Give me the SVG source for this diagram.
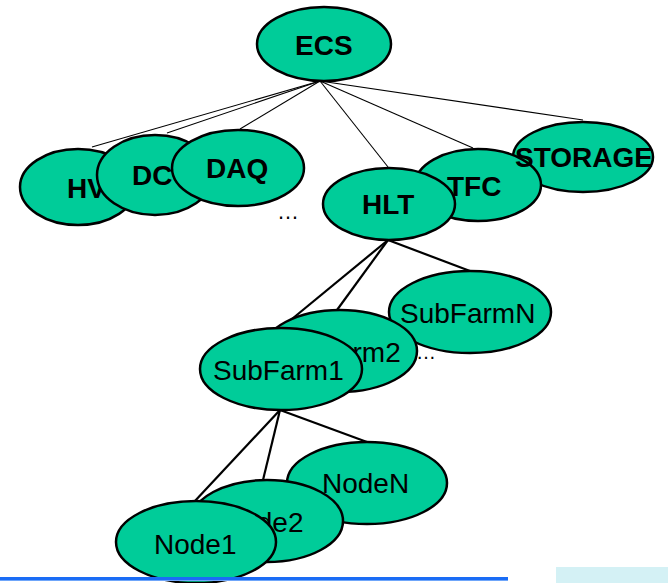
<svg xmlns="http://www.w3.org/2000/svg" width="668" height="583" viewBox="0 0 668 583">
  <style>
    .node ellipse { fill: #00CC99; stroke: #000; stroke-width: 2.5; }
    .bold { font-family: "Liberation Sans", Arial, sans-serif; font-weight: bold; font-size: 28px; fill: #000; }
    .reg { font-family: "Liberation Sans", Arial, sans-serif; font-size: 28px; fill: #000; }
    .thin line { stroke: #000; stroke-width: 1.1; }
    .thick line { stroke: #000; stroke-width: 2.2; }
  </style>
  <rect width="668" height="583" fill="#fff"/>

  <!-- connectors -->
  <g id="connectors">
    <g class="thin">
      <line x1="320" y1="81" x2="92" y2="147"/>
      <line x1="320" y1="81" x2="167" y2="133"/>
      <line x1="320" y1="81" x2="240" y2="129"/>
      <line x1="320" y1="81" x2="388" y2="167"/>
      <line x1="320" y1="81" x2="473" y2="148"/>
      <line x1="320" y1="81" x2="583" y2="120"/>
    </g>
    <g class="thick">
      <line x1="388" y1="240" x2="281" y2="328"/>
      <line x1="388" y1="240" x2="337" y2="310"/>
      <line x1="388" y1="240" x2="470" y2="271"/>
      <line x1="280" y1="410" x2="194" y2="502"/>
      <line x1="280" y1="410" x2="263" y2="480"/>
      <line x1="280" y1="410" x2="367" y2="442"/>
    </g>
  </g>

  <!-- ellipsis marks -->
  <text class="reg" x="277" y="219" style="font-size:22px">…</text>
  <text class="reg" x="416" y="359" style="font-size:20px">…</text>

  <!-- first level -->
  <g id="hv" class="node"><ellipse cx="78" cy="187" rx="58" ry="38"/><text class="bold" x="67" y="198">HV</text></g>
  <g id="dc" class="node"><ellipse cx="155" cy="175" rx="58" ry="40"/><text class="bold" x="132" y="185">DC</text></g>
  <g id="daq" class="node"><ellipse cx="238" cy="168" rx="66" ry="38"/><text class="bold" x="206" y="178">DAQ</text></g>
  <g id="storage" class="node"><ellipse cx="583" cy="157" rx="70" ry="35"/></g>
  <g id="tfc" class="node"><ellipse cx="478" cy="185" rx="63" ry="36"/><text class="bold" x="447" y="196">TFC</text></g>
  <text class="bold" x="515" y="167">STORAGE</text>
  <g id="hlt" class="node"><ellipse cx="389" cy="204" rx="66" ry="36"/><text class="bold" x="362" y="214">HLT</text></g>

  <!-- root -->
  <g id="ecs" class="node"><ellipse cx="324" cy="44" rx="67" ry="37"/><text class="bold" x="295" y="55">ECS</text></g>

  <!-- sub farms -->
  <g id="subfarmN" class="node"><ellipse cx="470" cy="312" rx="81" ry="41"/><text class="reg" x="400" y="323">SubFarmN</text></g>
  <g id="subfarm2" class="node"><ellipse cx="340" cy="351" rx="77" ry="41"/><text class="reg" x="270" y="362">SubFarm2</text></g>
  <g id="subfarm1" class="node"><ellipse cx="281" cy="369" rx="81" ry="41"/><text class="reg" x="213" y="380">SubFarm1</text></g>

  <!-- farm nodes -->
  <g id="nodeN" class="node"><ellipse cx="367" cy="483" rx="80" ry="41"/><text class="reg" x="322" y="493">NodeN</text></g>
  <g id="node2" class="node"><ellipse cx="267" cy="521" rx="76" ry="41"/><text class="reg" x="221" y="532">Node2</text></g>
  <g id="node1" class="node"><ellipse cx="196" cy="542" rx="80" ry="41"/><text class="reg" x="154" y="554">Node1</text></g>

  <!-- bottom strip -->
  <rect x="0" y="577" width="508" height="3" fill="#1a6cf5"/>
  <rect x="0" y="580" width="508" height="1" fill="#6fa6fa"/>
  <rect x="556" y="567" width="112" height="16" fill="#d4f1f5"/>
</svg>
